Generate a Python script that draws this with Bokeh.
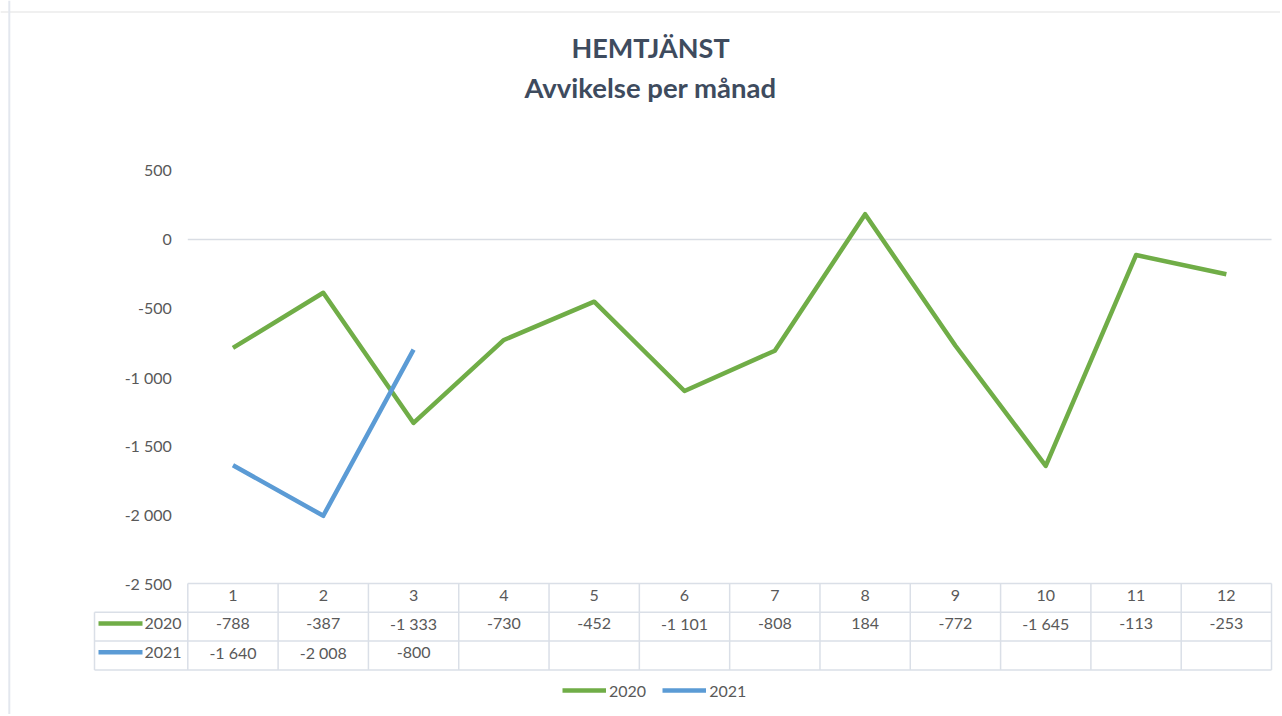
from bokeh.plotting import figure
from bokeh.models import Range1d, Legend, LegendItem, Span
from bokeh.embed import file_html
from bokeh.resources import INLINE
from bokeh.core.properties import value

# ---------------- data ----------------
title_line1 = "HEMTJÄNST"
title_line2 = "Avvikelse per månad"
months = [1, 2, 3, 4, 5, 6, 7, 8, 9, 10, 11, 12]
month_labels = [str(m) for m in months]
series_names = ["2020", "2021"]
values_2020 = [-788, -387, -1333, -730, -452, -1101, -808, 184, -772, -1645, -113, -253]
values_2021 = [-1640, -2008, -800]
y_ticks = [500, 0, -500, -1000, -1500, -2000, -2500]
colors = ["#70ad47", "#5b9bd5"]

FONT_NAME = "Lato"
FONT = value(FONT_NAME)
TXT = "#595959"
GRID = "#dadfe7"


def fmt(v):
    s = f"{abs(v):,}".replace(",", " ")
    return "-" + s if v < 0 else s


# ------------- page-pixel helpers (layout only) -------------
X0_PX, UNIT_X = 187.3, 90.31          # page x of category boundary 0.5, px per category
Y0_PX, PX_PER_500 = 239.0, 68.8       # page y of value 0, px per 500 units
T0_PX, ROW_PX = 583.0, 28.8           # page y of table top, px per table row
OFF = 0                               # canvas origin on the page


def page_x(px):
    return 0.5 + (px - X0_PX) / UNIT_X


def page_y(py):
    return -(py - Y0_PX) * 500.0 / PX_PER_500


def page_t(py):
    return (py - T0_PX) / ROW_PX


W, H = 1280, 714
p = figure(width=W, height=H,
           x_range=Range1d(page_x(OFF), page_x(OFF + W)),
           y_range=Range1d(page_y(OFF + H), page_y(OFF)),
           x_axis_type=None, y_axis_type=None,
           output_backend="svg", toolbar_location=None, min_border=0)
p.extra_y_ranges = {"table": Range1d(start=page_t(OFF + H), end=page_t(OFF))}
p.outline_line_color = None
p.background_fill_color = "white"
p.border_fill_color = "white"

# faint chart border (top/left)
p.add_layout(Span(location=page_y(11.5), dimension="width", line_color="#ebebeb", line_width=1.5))
p.add_layout(Span(location=page_x(8.8), dimension="height", line_color="#e3e7ee", line_width=2))

# ---------------- title ----------------
xc = page_x(650)
p.text(x=[xc], y=[page_y(47)], text=[title_line1], text_font=FONT, text_font_size="27px",
       text_font_style="bold", text_color="#3e4b5e", text_align="center", text_baseline="middle")
p.text(x=[xc], y=[page_y(87)], text=[title_line2], text_font=FONT, text_font_size="27.5px",
       text_font_style="bold", text_color="#3e4b5e", text_align="center", text_baseline="middle")

# ---------------- value axis labels + zero line ----------------
first, last = months[0] - 0.5, months[-1] + 0.5
p.text(x=[first] * len(y_ticks), y=y_ticks, text=[fmt(t) for t in y_ticks], x_offset=-16,
       text_font=FONT, text_font_size="16px", text_color=TXT,
       text_align="right", text_baseline="middle")
p.segment(x0=[first], x1=[last], y0=[0], y1=[0], line_color="#d9dde4", line_width=1.3)

# ---------------- series ----------------
r2020 = p.line(months, values_2020, line_color=colors[0], line_width=4.5, line_join="round")
r2021 = p.line(months[:len(values_2021)], values_2021, line_color=colors[1], line_width=4.5,
               line_join="round")

# ---------------- data table ----------------
label_left = page_x(94)
n_rows = 1 + len(series_names)
bounds = [m - 0.5 for m in months] + [last]
# horizontal rules
p.segment(x0=[first] + [label_left] * n_rows, x1=[last] * (n_rows + 1),
          y0=list(range(n_rows + 1)), y1=list(range(n_rows + 1)),
          y_range_name="table", line_color=GRID, line_width=1.5)
# vertical rules
p.segment(x0=bounds + [label_left], x1=bounds + [label_left],
          y0=[0] * len(bounds) + [1], y1=[n_rows] * (len(bounds) + 1),
          y_range_name="table", line_color=GRID, line_width=1.5)

tkw = dict(text_font=FONT, text_font_size="16px", text_color=TXT, text_align="center",
           text_baseline="middle", y_range_name="table")
p.text(x=months, y=[0.41] * len(months), text=month_labels, **tkw)
p.text(x=months, y=[1.40] * len(months), text=[fmt(v) for v in values_2020], **tkw)
p.text(x=months[:len(values_2021)], y=[2.40] * len(values_2021),
       text=[fmt(v) for v in values_2021], **tkw)

# row keys
key_rows = [1.39, 2.39]
p.segment(x0=[page_x(98)] * 2, x1=[page_x(142)] * 2, y0=key_rows, y1=key_rows,
          y_range_name="table", line_color=colors, line_width=4.5)
p.text(x=[page_x(144)] * 2, y=[r + 0.01 for r in key_rows], text=series_names,
       text_font=FONT, text_font_size="16px", text_color=TXT, text_align="left",
       text_baseline="middle", y_range_name="table")

# ---------------- legend ----------------
legend = Legend(items=[LegendItem(label=series_names[0], renderers=[r2020]),
                       LegendItem(label=series_names[1], renderers=[r2021])],
                orientation="horizontal", location=(562 - OFF, H - (700 - OFF)),
                glyph_width=44, glyph_height=20, label_standoff=3, spacing=16,
                padding=0, margin=0, border_line_color=None, background_fill_alpha=0,
                label_text_font=FONT_NAME, label_text_font_size="16px", label_text_color=TXT,
                label_height=20)
p.add_layout(legend)

open("out.html", "w").write(file_html(p, INLINE))
